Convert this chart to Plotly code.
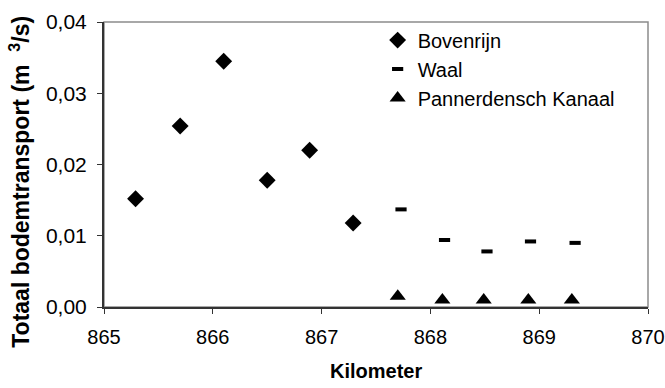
import plotly.graph_objects as go

bov_x = [865.29, 865.70, 866.10, 866.50, 866.89, 867.29]
bov_y = [0.0152, 0.0254, 0.0345, 0.0178, 0.0220, 0.0118]
waal_x = [867.73, 868.13, 868.52, 868.92, 869.33]
waal_y = [0.0137, 0.0094, 0.0078, 0.0092, 0.0090]
pan_x = [867.70, 868.11, 868.49, 868.90, 869.30]
pan_y = [0.0015, 0.0010, 0.0010, 0.0010, 0.0010]

x_ticks = [865, 866, 867, 868, 869, 870]
y_ticks = [0.00, 0.01, 0.02, 0.03, 0.04]

FONT = "Liberation Sans, Arial, sans-serif"

fig = go.Figure()
fig.add_trace(go.Scatter(x=bov_x, y=bov_y, mode="markers", name="Bovenrijn",
                         marker=dict(symbol="diamond", size=13, color="black")))
fig.add_trace(go.Scatter(x=waal_x, y=waal_y, mode="markers", name="Waal",
                         marker=dict(symbol="line-ew", size=8, color="black",
                                     line=dict(width=4, color="black"))))
fig.add_trace(go.Scatter(x=pan_x, y=pan_y, mode="markers", name="Pannerdensch Kanaal",
                         marker=dict(symbol="triangle-up", size=14, color="black")))

fig.add_shape(type="rect", xref="paper", yref="paper", x0=0, y0=0, x1=1, y1=1,
              line=dict(color="#8c8c8c", width=1.5), layer="below")

fig.add_annotation(text="<b>Totaal bodemtransport (m  <sup>3</sup>/s)</b>",
                   xref="paper", yref="paper", x=-0.156, y=0.44,
                   xanchor="center", yanchor="middle", textangle=-90,
                   showarrow=False, font=dict(family=FONT, size=23, color="black"))
fig.add_annotation(text="<b>Kilometer</b>",
                   xref="paper", yref="paper", x=0.5, y=-0.225,
                   xanchor="center", yanchor="middle",
                   showarrow=False, font=dict(family=FONT, size=20, color="black"))

fig.update_layout(
    width=665, height=388,
    margin=dict(l=104, r=17, t=22, b=81),
    paper_bgcolor="white", plot_bgcolor="white",
    separators=",.",
    font=dict(family=FONT, size=20, color="black"),
    showlegend=True,
    legend=dict(x=0.503, y=1.005, xanchor="left", yanchor="top",
                bgcolor="rgba(0,0,0,0)",
                font=dict(family=FONT, size=20, color="black")),
    xaxis=dict(range=[865, 870], tickvals=x_ticks, ticktext=[str(v) for v in x_ticks],
               showgrid=False, zeroline=False, showline=True, linecolor="#333333",
               linewidth=2, ticks="outside", ticklen=5, tickcolor="#333333",
               tickfont=dict(size=20), ticklabelstandoff=6, automargin=False),
    yaxis=dict(range=[0, 0.04], tickvals=y_ticks, tickformat=".2f",
               showgrid=False, zeroline=False, showline=True, linecolor="#333333",
               linewidth=2, ticks="outside", ticklen=5, tickcolor="#333333",
               tickfont=dict(size=21), ticklabelstandoff=6, automargin=False),
)

fig.write_html("out.html", config={"displayModeBar": False},
               post_script="document.body.style.margin='0px';")
